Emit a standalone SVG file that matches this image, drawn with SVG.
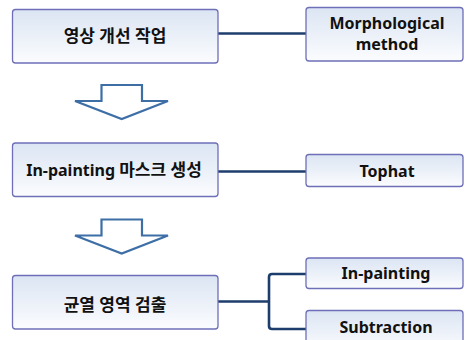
<svg xmlns="http://www.w3.org/2000/svg" width="466" height="340" viewBox="0 0 466 340">
  <style>
    .box { fill: url(#boxFill); stroke: #6e6fb8; stroke-width: 1.3; }
    .lbl { font-family: "Noto Sans", "Noto Sans CJK KR", sans-serif; font-weight: bold; font-size: 16px; fill: #111; text-anchor: middle; }
    .ko { font-size: 17px; }
    .link { fill: none; stroke: #1d3e6c; stroke-width: 2.6; stroke-linejoin: round; }
    .flow { fill: #ffffff; stroke: #3d6fa6; stroke-width: 2.2; stroke-linejoin: miter; }
  </style>
  <defs>
    <linearGradient id="boxFill" x1="0" y1="0" x2="0" y2="1">
      <stop offset="0" stop-color="#dbe5f3"/>
      <stop offset="1" stop-color="#fbfcfe"/>
    </linearGradient>
  </defs>

  <!-- connectors -->
  <g id="connectors">
    <path class="link" d="M218,33.5 H306"/>
    <path class="link" d="M218,171.5 H306"/>
    <path class="link" d="M218,301.5 H269 M306,274 H272 Q269,274 269,277 V326 Q269,329 272,329 H306"/>
  </g>

  <!-- step arrows -->
  <g id="arrow1">
    <path class="flow" d="M101.5,85 H142 V101 H168 L121.7,119 L75,101 H101.5 Z"/>
  </g>
  <g id="arrow2">
    <path class="flow" d="M101.5,219.5 H142 V235.5 H168 L121.7,253.5 L75,235.5 H101.5 Z"/>
  </g>

  <!-- process steps -->
  <g id="step1">
    <rect class="box" x="12.5" y="9.5" width="205.5" height="53.5" rx="3"/>
    <text class="lbl ko" x="115" y="42">영상 개선 작업</text>
  </g>
  <g id="step2">
    <rect class="box" x="12.5" y="143" width="205.5" height="53.5" rx="3"/>
    <text class="lbl" x="114" y="175.5">In-painting <tspan class="ko">마스크 생성</tspan></text>
  </g>
  <g id="step3">
    <rect class="box" x="12.5" y="275.5" width="205.5" height="53.5" rx="3"/>
    <text class="lbl ko" x="115" y="310.5">균열 영역 검출</text>
  </g>

  <!-- methods -->
  <g id="morph">
    <rect class="box" x="306" y="7.5" width="157" height="53.5" rx="3"/>
    <text class="lbl" x="387" y="29"><tspan x="387">Morphological</tspan><tspan x="387" dy="21">method</tspan></text>
  </g>
  <g id="tophat">
    <rect class="box" x="306" y="154.5" width="157" height="32" rx="3"/>
    <text class="lbl" x="387" y="177">Tophat</text>
  </g>
  <g id="inpaint">
    <rect class="box" x="306" y="258" width="157" height="30.5" rx="3"/>
    <text class="lbl" x="386" y="279">In-painting</text>
  </g>
  <g id="subtract">
    <rect class="box" x="306" y="310.5" width="157" height="40" rx="3"/>
    <text class="lbl" x="386" y="333">Subtraction</text>
  </g>
</svg>
